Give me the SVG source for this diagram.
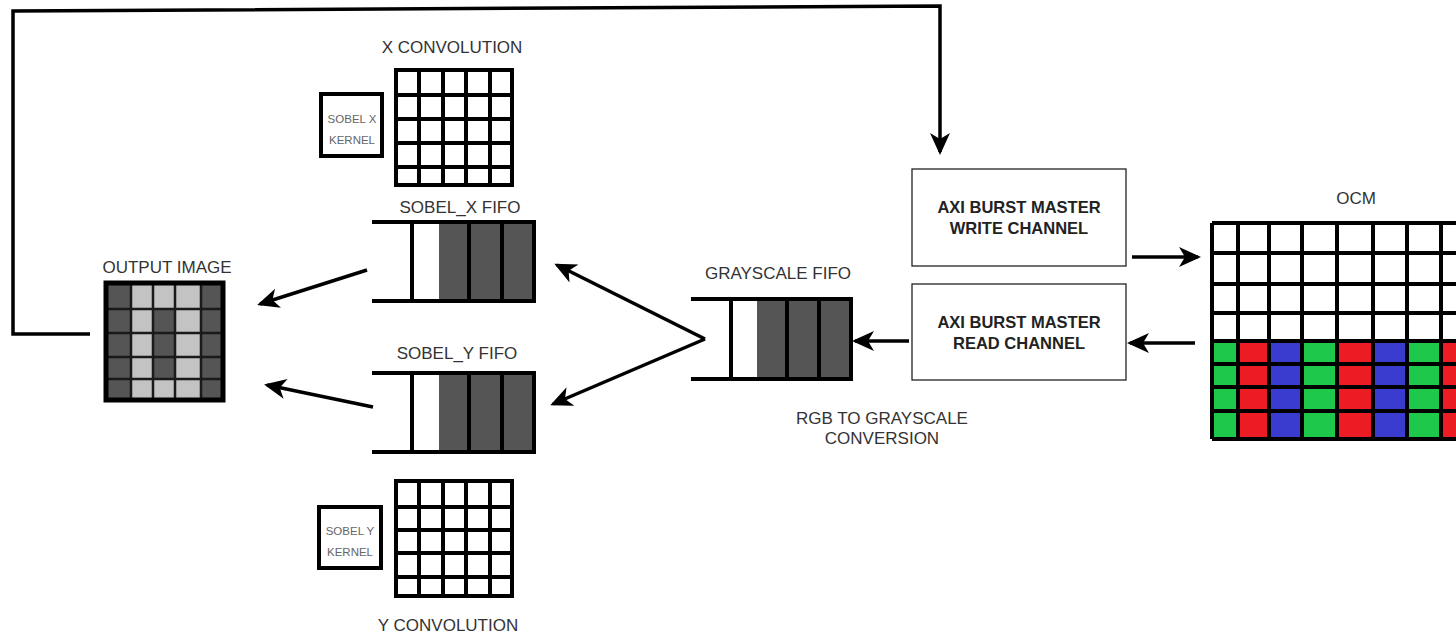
<svg xmlns="http://www.w3.org/2000/svg" width="1456" height="633" viewBox="0 0 1456 633">
<style>
  .lbl{font-family:"Liberation Sans",Arial,sans-serif;font-size:17px;fill:#333;text-anchor:middle}
  .axi{font-family:"Liberation Sans",Arial,sans-serif;font-size:16.5px;font-weight:bold;fill:#222;text-anchor:middle}
  .kt{font-family:"Liberation Sans",Arial,sans-serif;font-size:11.5px;fill:#666;text-anchor:middle}
  .grid{stroke:#000;stroke-width:4;fill:none}
  .conn{stroke:#000;stroke-width:3.5;fill:none}
  .dark{fill:#555}
  .light{fill:#c3c3c3}
  .g{fill:#1ec84a}.r{fill:#ec1c24}.b{fill:#3a3ccf}
</style>
<defs>
  <marker id="ah" viewBox="0 0 22 22" refX="19" refY="11" markerWidth="22" markerHeight="22" markerUnits="userSpaceOnUse" orient="auto">
    <path d="M0,1 L22,11 L0,21 L6,11 z" fill="#000"/>
  </marker>
</defs>
<rect width="1456" height="633" fill="#fff"/>

<g id="x-convolution">
  <text class="lbl" x="452" y="53">X CONVOLUTION</text>
  <rect x="396" y="70" width="116" height="115" fill="#fff"/>
  <path class="grid" d="M396,70H512V185H396Z M419,70V185 M443,70V185 M466,70V185 M490,70V185 M396,95H512 M396,119H512 M396,143H512 M396,167H512"/>
</g>
<g id="sobel-x-kernel">
  <rect x="321" y="94" width="61" height="62" fill="#fff" stroke="#000" stroke-width="4"/>
  <text class="kt" x="352" y="123">SOBEL X</text>
  <text class="kt" x="352" y="144">KERNEL</text>
</g>

<g id="y-convolution">
  <rect x="396" y="481" width="116" height="115" fill="#fff"/>
  <path class="grid" d="M396,481H512V596H396Z M419,481V596 M443,481V596 M466,481V596 M490,481V596 M396,507H512 M396,530H512 M396,553H512 M396,577H512"/>
  <text class="lbl" x="448" y="631">Y CONVOLUTION</text>
</g>
<g id="sobel-y-kernel">
  <rect x="319" y="507" width="62" height="61" fill="#fff" stroke="#000" stroke-width="4"/>
  <text class="kt" x="350" y="535">SOBEL Y</text>
  <text class="kt" x="350" y="556">KERNEL</text>
</g>

<g id="sobel-x-fifo">
  <text class="lbl" x="460" y="213">SOBEL_X FIFO</text>
  <rect class="dark" x="439" y="222" width="96" height="79"/>
  <path class="grid" d="M372,222H536 M372,301H536 M534,222V301 M412,222V301 M469,222V301 M502,222V301"/>
</g>

<g id="sobel-y-fifo">
  <text class="lbl" x="457" y="359">SOBEL_Y FIFO</text>
  <rect class="dark" x="439" y="373" width="96" height="79"/>
  <path class="grid" d="M372,373H536 M372,452H536 M534,373V452 M412,373V452 M469,373V452 M502,373V452"/>
</g>

<g id="grayscale-fifo">
  <text class="lbl" x="778" y="279">GRAYSCALE FIFO</text>
  <rect class="dark" x="757" y="299" width="95" height="80"/>
  <path class="grid" d="M691,299H853 M691,379H853 M851,299V379 M731,299V379 M787,299V379 M819,299V379"/>
</g>

<g id="rgb-to-grayscale">
  <text class="lbl" x="882" y="424">RGB TO GRAYSCALE</text>
  <text class="lbl" x="882" y="444">CONVERSION</text>
</g>

<g id="output-image">
  <text class="lbl" x="167" y="273">OUTPUT IMAGE</text>
  <rect class="dark" x="106" y="283" width="25" height="117"/>
  <rect class="light" x="131" y="283" width="22" height="117"/>
  <rect class="light" x="153" y="283" width="22" height="117"/>
  <rect class="dark" x="153" y="309" width="22" height="70"/>
  <rect class="light" x="175" y="283" width="26" height="117"/>
  <rect class="dark" x="201" y="283" width="22" height="117"/>
  <path d="M131,283V400 M153,283V400 M175,283V400 M201,283V400 M106,309H223 M106,333H223 M106,357H223 M106,379H223" stroke="#1a1a1a" stroke-width="2.5" fill="none"/>
  <rect x="106" y="283" width="117" height="117" fill="none" stroke="#000" stroke-width="5"/>
</g>

<g id="axi-write">
  <rect x="912" y="169" width="214" height="97" fill="#fff" stroke="#222" stroke-width="1.3"/>
  <text class="axi" x="1019" y="213">AXI BURST MASTER</text>
  <text class="axi" x="1019" y="234">WRITE CHANNEL</text>
</g>

<g id="axi-read">
  <rect x="912" y="284" width="214" height="96" fill="#fff" stroke="#222" stroke-width="1.3"/>
  <text class="axi" x="1019" y="328">AXI BURST MASTER</text>
  <text class="axi" x="1019" y="349">READ CHANNEL</text>
</g>

<g id="ocm">
  <text class="lbl" x="1356" y="204">OCM</text>
  <rect x="1212" y="223" width="260" height="216" fill="#fff"/>
  <g>
    <rect class="g" x="1212" y="341" width="26" height="98"/>
    <rect class="r" x="1238" y="341" width="31" height="98"/>
    <rect class="b" x="1269" y="341" width="33" height="98"/>
    <rect class="g" x="1302" y="341" width="35" height="98"/>
    <rect class="r" x="1337" y="341" width="36" height="98"/>
    <rect class="b" x="1373" y="341" width="34" height="98"/>
    <rect class="g" x="1407" y="341" width="34" height="98"/>
    <rect class="r" x="1441" y="341" width="34" height="98"/>
  </g>
  <path class="grid" d="M1212,223V439 M1238,223V439 M1269,223V439 M1302,223V439 M1337,223V439 M1373,223V439 M1407,223V439 M1441,223V439 M1212,223H1460 M1212,253H1460 M1212,284H1460 M1212,313H1460 M1212,341H1460 M1212,364H1460 M1212,387H1460 M1212,411H1460 M1212,439H1460"/>
</g>

<g id="connectors">
  <path class="conn" d="M90,334H13V11L940,6V152" marker-end="url(#ah)"/>
  <path class="conn" d="M1132,257H1198" marker-end="url(#ah)"/>
  <path class="conn" d="M1195,343H1130" marker-end="url(#ah)"/>
  <path class="conn" d="M909,341H855" marker-end="url(#ah)"/>
  <path class="conn" d="M705,339L557,265" marker-end="url(#ah)"/>
  <path class="conn" d="M705,339L553,404" marker-end="url(#ah)"/>
  <path class="conn" d="M367,270L260,304" marker-end="url(#ah)"/>
  <path class="conn" d="M373,407L267,385" marker-end="url(#ah)"/>
</g>
</svg>
